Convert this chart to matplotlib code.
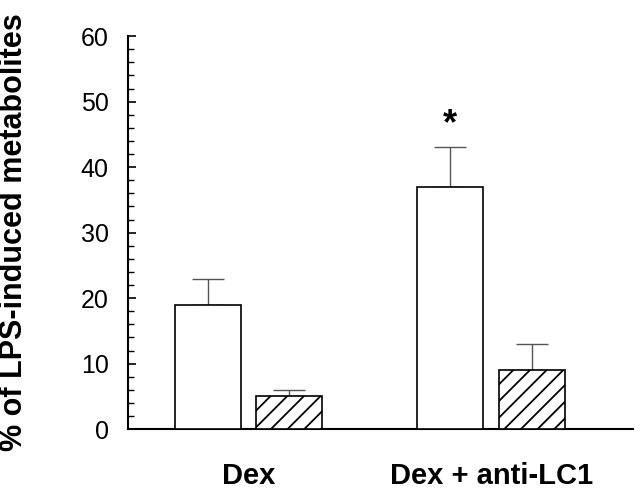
import numpy as np
import matplotlib.pyplot as plt
from matplotlib.ticker import MultipleLocator

plt.rcParams['font.family'] = ['Liberation Sans', 'DejaVu Sans']
plt.rcParams['hatch.linewidth'] = 1.3

groups = ['Dex', 'Dex + anti-LC1']
open_vals = [19, 37]
open_err = [4, 6]
hatched_vals = [5, 9]
hatched_err = [1, 4]
star_y = 46.5

fig = plt.figure(figsize=(6.4, 4.95), dpi=100)
ax = fig.add_axes([0.2, 0.133, 0.789, 0.794])

x = np.arange(len(groups))
w = 0.272
off = 0.168

ax.bar(x - off, open_vals, w, color='white', edgecolor='black', linewidth=1.2, zorder=3)
ax.bar(x + off, hatched_vals, w, color='white', edgecolor='black', linewidth=1.2,
       hatch='//', zorder=3)
ax.errorbar(x - off, open_vals, yerr=[[0] * len(x), open_err], fmt='none',
            ecolor='#555555', elinewidth=1, capsize=11.5, capthick=1, zorder=2)
ax.errorbar(x + off, hatched_vals, yerr=[[0] * len(x), hatched_err], fmt='none',
            ecolor='#555555', elinewidth=1, capsize=11.5, capthick=1, zorder=2)

# significance marker
ax.text(x[1] - off, star_y, '*', ha='center', va='center', fontsize=26, fontweight='bold')

ax.set_xlim(-0.498, 1.585)
ax.set_ylim(0, 60)
ax.yaxis.set_major_locator(MultipleLocator(10))
ax.yaxis.set_minor_locator(MultipleLocator(2))
ax.tick_params(axis='y', which='major', direction='in', length=6, width=1.2,
               labelsize=18, pad=14)
ax.tick_params(axis='y', which='minor', direction='in', length=4, width=1.0)
ax.tick_params(axis='x', length=0, pad=24)
ax.set_xticks(x)
ax.set_xticklabels(groups, fontsize=21, fontweight='bold')

for s in ['top', 'right']:
    ax.spines[s].set_visible(False)
for s in ['left', 'bottom']:
    ax.spines[s].set_linewidth(1.5)

fig.text(14 / 640, 0.531, '% of LPS-induced metabolites', rotation=90,
         ha='center', va='center', fontsize=22, fontweight='bold')

fig.savefig('out.png', dpi=100)
